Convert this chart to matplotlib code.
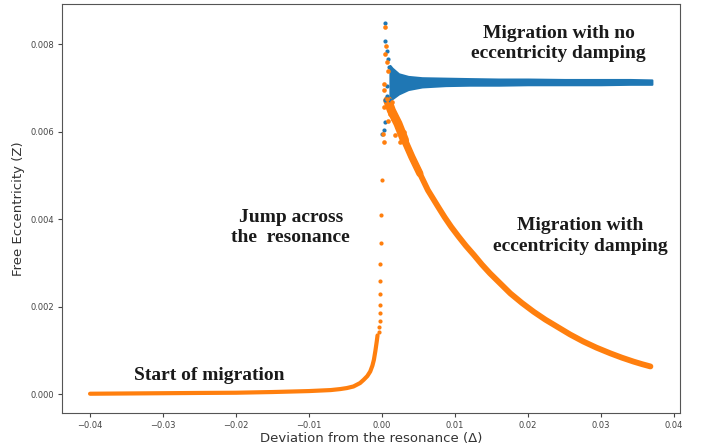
import matplotlib
matplotlib.use("Agg")
import matplotlib.pyplot as plt

# orange run: slow growth before the resonance
start_x = [-0.0400, -0.0350, -0.0300, -0.0250, -0.0200, -0.0150, -0.0100,
           -0.0070, -0.0057, -0.0048, -0.0039, -0.0030, -0.0025, -0.0020,
           -0.0016, -0.0013, -0.0011, -0.0009, -0.0007, -0.0006]
start_y = [0.000016, 0.000022, 0.000028, 0.000034, 0.000039, 0.000055, 0.000077,
           0.000100, 0.000123, 0.000146, 0.000182, 0.000260, 0.000335, 0.000420,
           0.000525, 0.000660, 0.000791, 0.000990, 0.001220, 0.001350]

# orange run: isolated points of the jump
jump_x = [-0.0004, -0.0004, -0.0003, -0.0003, -0.0003, -0.0002,
          -0.0002, -0.0002, -0.0001, -0.0001, 0.0000]
jump_y = [0.00142, 0.00155, 0.00168, 0.00186, 0.00204, 0.00230,
          0.00259, 0.00299, 0.00347, 0.00411, 0.00491]

# orange run: decay after the resonance
decay_x = [0.0008, 0.0013, 0.0022, 0.0031, 0.0041, 0.0052, 0.0063, 0.0077,
           0.0086, 0.0095, 0.0105, 0.0115, 0.0126, 0.0137, 0.0148, 0.0162,
           0.0176, 0.0192, 0.0208, 0.0224, 0.0240, 0.0258, 0.0276, 0.0294,
           0.0313, 0.0329, 0.0345, 0.0357, 0.0368]
decay_y = [0.00672, 0.00649, 0.00619, 0.00581, 0.00543, 0.00505, 0.00467, 0.00429,
           0.00405, 0.00383, 0.00361, 0.00340, 0.00319, 0.00297, 0.00277, 0.00254,
           0.00231, 0.00209, 0.00189, 0.00171, 0.00155, 0.00137, 0.00121, 0.00107,
           0.00094, 0.00084, 0.00075, 0.00069, 0.00064]

# orange scatter near the resonance
orange_noise_x = [0.00045, 0.00059, 0.00036, 0.00073, 0.00086, 0.00022, 0.00032,
                  0.00063, 0.00022, 0.00110, 0.00086, 0.00155, 0.00200, 0.00268,
                  0.00014, 0.00022, 0.00182, 0.00251, 0.00140, 0.00300]
orange_noise_y = [0.00839, 0.00797, 0.00779, 0.00759, 0.00740, 0.00710, 0.00695,
                  0.00676, 0.00657, 0.00642, 0.00626, 0.00630, 0.00611, 0.00604,
                  0.00596, 0.00577, 0.00592, 0.00576, 0.00668, 0.00600]

# blue run: band with no eccentricity damping
blue_x = [0.0011, 0.0014, 0.0023, 0.0036, 0.0055, 0.0087, 0.0120, 0.0160,
          0.0200, 0.0250, 0.0300, 0.0340, 0.0370]
blue_hi = [0.00752, 0.00746, 0.00733, 0.00727, 0.00724, 0.00723, 0.00722,
           0.00721, 0.00721, 0.00720, 0.00720, 0.00720, 0.00719]
blue_lo = [0.00672, 0.00676, 0.00687, 0.00697, 0.00703, 0.00706, 0.00707,
           0.00707, 0.00708, 0.00708, 0.00708, 0.00709, 0.00709]

# blue scatter near the resonance
blue_noise_x = [0.00045, 0.00045, 0.00068, 0.00090, 0.00100, 0.00068,
                0.00045, 0.00110, 0.00049, 0.00022, 0.00004, 0.00063]
blue_noise_y = [0.00848, 0.00807, 0.00786, 0.00767, 0.00748, 0.00706,
                0.00672, 0.00672, 0.00623, 0.00604, 0.00596, 0.00683]

BLUE = "#1f77b4"
ORANGE = "#ff7f0e"

fig, ax = plt.subplots(figsize=(7.01, 4.47), dpi=100)
fig.subplots_adjust(left=0.0884, right=0.970, top=0.991, bottom=0.076)

ax.fill_between(blue_x, blue_lo, blue_hi, color=BLUE, lw=1.5, edgecolor=BLUE)
ax.scatter(blue_noise_x, blue_noise_y, s=9, color=BLUE, lw=0, zorder=3)

ax.plot(start_x, start_y, color=ORANGE, lw=3.0, solid_capstyle="round")
ax.scatter(jump_x, jump_y, s=9, color=ORANGE, lw=0)
ax.plot(decay_x, decay_y, color=ORANGE, lw=4.2, solid_capstyle="round",
        solid_joinstyle="round")
# the first stretch after the jump is more spread out
ax.plot(decay_x[:6], decay_y[:6], color=ORANGE, lw=5.2, solid_capstyle="round",
        solid_joinstyle="round")
ax.plot(decay_x[:4], decay_y[:4], color=ORANGE, lw=6.5, solid_capstyle="round",
        solid_joinstyle="round")
ax.scatter(orange_noise_x, orange_noise_y, s=11, color=ORANGE, lw=0, zorder=3)

ax.set_xlim(-0.04385, 0.04085)
ax.set_ylim(-0.000425, 0.008925)
ax.set_xticks([-0.04, -0.03, -0.02, -0.01, 0.0, 0.01, 0.02, 0.03, 0.04])
ax.set_yticks([0.0, 0.002, 0.004, 0.006, 0.008])
ax.tick_params(labelsize=6, colors="#444444", length=3, pad=2.5)
for s in ax.spines.values():
    s.set_color("#555555")

ax.set_xlabel("Deviation from the resonance (\u0394)", fontsize=9.5,
              color="#333333", labelpad=1.5)
ax.set_ylabel("Free Eccentricity (Z)", fontsize=9.5, color="#333333")

note = dict(family="Liberation Serif", weight="bold", fontsize=14,
            color="#1a1a1a", ha="center", va="center", linespacing=1.25)
ax.text(0.0242, 0.00803, "Migration with no\neccentricity damping", **note)
ax.text(-0.0125, 0.00381, "Jump across\nthe  resonance", **note)
ax.text(0.0272, 0.00362, "Migration with\neccentricity damping", **note)
ax.text(-0.0236, 0.00043, "Start of migration", **note)

fig.savefig("out.png", dpi=100)
